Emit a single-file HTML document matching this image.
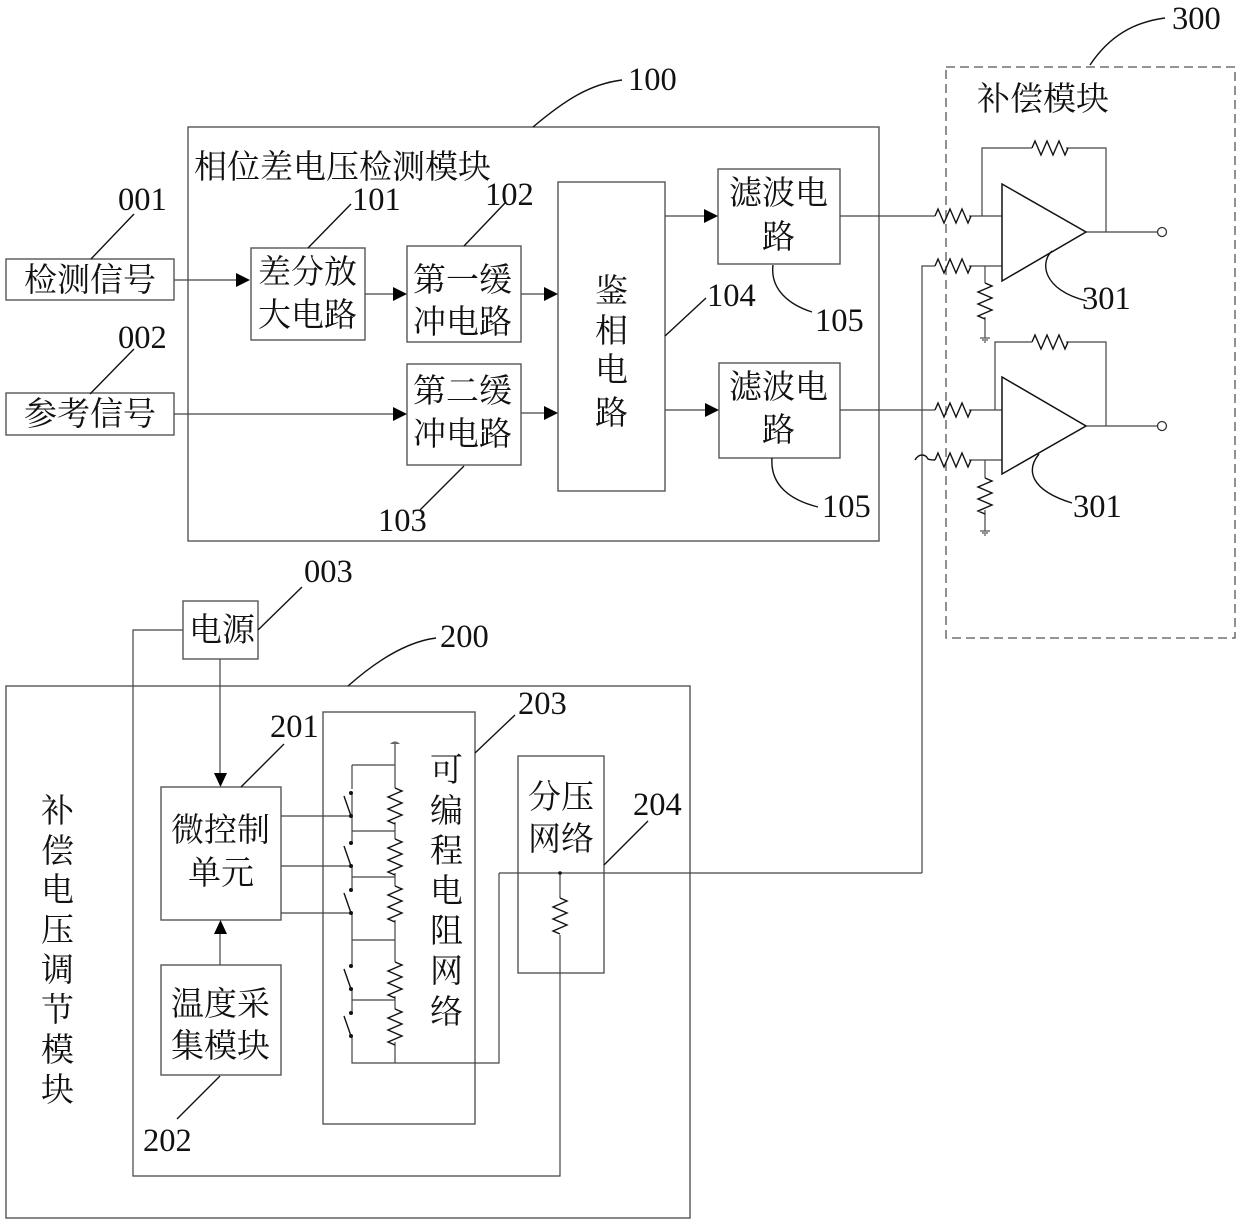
<!DOCTYPE html>
<html lang="zh">
<head>
<meta charset="utf-8">
<title>Diagram</title>
<style>
html,body{margin:0;padding:0;background:#fff}
svg{display:block}
.b{fill:none;stroke:#555;stroke-width:1.4}
.w{fill:none;stroke:#444;stroke-width:1.2}
.l{fill:none;stroke:#111;stroke-width:1.4}
.r{fill:none;stroke:#111;stroke-width:1.4}
.a{fill:#000;stroke:none}
.d{fill:#111;stroke:none}
.t{font-family:"Liberation Serif","Noto Serif CJK SC",serif;font-size:33px;fill:#111}
.n{font-family:"Liberation Serif",serif;font-size:32.5px;fill:#111}
</style>
</head>
<body>
<svg xmlns="http://www.w3.org/2000/svg" width="1240" height="1224" viewBox="0 0 1240 1224">
<defs>
<path id="rh" class="r" d="M0 0l3-7 6 14 6-14 6 14 6-14 6 14 3-7"/>
<path id="rv" class="r" d="M0 0l7 3-14 6 14 6-14 6 14 6-14 6 7 3"/>
<path id="gnd" fill="none" stroke="#555" stroke-width="1.2" d="M-5 0h10M-3 2h6M-1 4h2"/>
</defs>

<!-- boxes -->
<rect class="b" x="188" y="127" width="691" height="414"/>
<rect class="b" x="6" y="259" width="168" height="41"/>
<rect class="b" x="6" y="393" width="168" height="42"/>
<rect class="b" x="251" y="248" width="114" height="92"/>
<rect class="b" x="407" y="246" width="114" height="96"/>
<rect class="b" x="407" y="364" width="114" height="101"/>
<rect class="b" x="558" y="182" width="107" height="309"/>
<rect class="b" x="718" y="169" width="122" height="95"/>
<rect class="b" x="719" y="363" width="121" height="95"/>
<rect x="946" y="67" width="289" height="571" fill="none" stroke="#555" stroke-width="1.3" stroke-dasharray="9 5"/>
<rect class="b" x="183" y="601" width="75" height="58"/>
<rect class="b" x="6" y="686" width="684" height="532"/>
<rect class="b" x="161" y="787" width="120" height="133"/>
<rect class="b" x="161" y="965" width="120" height="110"/>
<rect class="b" x="323" y="712" width="152" height="412"/>
<rect class="b" x="518" y="756" width="86" height="217"/>

<!-- top wires -->
<path class="w" d="M174 280H238M365 294H394M521 294H545M174 414H394M521 413H545M665 216H705M665 410H706"/>
<path class="a" d="M236 273l14 7-14 7zM393 287l14 7-14 7zM544 287l14 7-14 7zM393 407l14 7-14 7zM544 406l14 7-14 7zM704 209l14 7-14 7zM705 403l14 7-14 7z"/>

<!-- compensation amp 1 -->
<path class="w" d="M840 216H935M969 216H1002M982 216V148H1032M1066 148H1106V232M1086 232H1157.500M922 873V266H935M969 266H1002M985 266V283M985 317V338"/>
<use href="#rh" x="935" y="216"/>
<use href="#rh" x="935" y="266"/>
<use href="#rh" x="1032" y="148"/>
<use href="#rv" x="985" y="283"/>
<use href="#gnd" x="985" y="338"/>
<path fill="#fff" stroke="#111" stroke-width="1.5" d="M1002 184L1086 232 1002 281Z"/>
<circle cx="1162" cy="232" r="4.500" fill="#fff" stroke="#333" stroke-width="1.3"/>

<!-- compensation amp 2 -->
<path class="w" d="M840 410H935M969 410H1002M995 410V342H1032M1066 342H1106V426M1086 426H1157.500M969 460H1002M985 460V478M985 510V531"/>
<path class="r" d="M915 460q3-5 7-5 4 0 6 4 2 1 7 1"/>
<use href="#rh" x="935" y="410"/>
<use href="#rh" x="935" y="460"/>
<use href="#rh" x="1032" y="342"/>
<use href="#rv" x="985" y="478"/>
<use href="#gnd" x="985" y="531"/>
<path fill="#fff" stroke="#111" stroke-width="1.5" d="M1002 377L1086 426 1002 474Z"/>
<circle cx="1162" cy="426" r="4.500" fill="#fff" stroke="#333" stroke-width="1.3"/>

<!-- bottom wires -->
<path class="w" d="M183 630H133V1176H560V935M560 898V873M220 659V775M220 965V932M499 873H922M499 873V1063H352V1036M352 816V793M352 765V789"/>
<path class="a" d="M214 773h13l-6.500 14zM214 934l6.500-14 6.500 14z"/>
<circle class="d" cx="560" cy="873" r="1.800"/>
<use href="#rv" x="560" y="898"/>

<!-- programmable resistor network -->
<path d="M390 744q5-5 10 0z" fill="#666"/>
<path class="w" d="M395 744V788M352 765H395M281 816H352M352 816V843M352 831H395M395 822V839M281 866H352M352 866V890M352 877H395M395 873V886M281 913H352M352 913V966M352 940H395M395 920V962M352 989V1013M352 1000H395M395 996V1009M395 1042V1063"/>
<use href="#rv" x="395" y="788"/>
<use href="#rv" x="395" y="839"/>
<use href="#rv" x="395" y="886"/>
<use href="#rv" x="395" y="962"/>
<use href="#rv" x="395" y="1009"/>
<path class="r" d="M344 796L351 816M344 846L351 866M344 893L351 913M344 969L351 989M344 1016L351 1036"/>
<g class="d">
<circle cx="351" cy="793" r="2"/><circle cx="351" cy="816" r="2"/>
<circle cx="351" cy="843" r="2"/><circle cx="351" cy="866" r="2"/>
<circle cx="351" cy="890" r="2"/><circle cx="351" cy="913" r="2"/>
<circle cx="351" cy="966" r="2"/><circle cx="351" cy="989" r="2"/>
<circle cx="351" cy="1013" r="2"/><circle cx="351" cy="1036" r="2"/>
</g>

<!-- leaders -->
<path class="l" d="M91 259L134 214M90 394L134 349M308 248L351 204M464 246L505 203M420 510L464 466M665 336L706 298M258 630L302 587M241 787L284 744M177 1119L220 1076M475 753L515 715M604 865L648 821"/>
<path class="l" d="M1090 65C1110 35 1135 22 1165 18M533 127C565 100 590 84 622 80M773 265C770 290 790 305 812 312M772 458C770 485 790 500 818 507M348 686C375 662 405 642 436 638M1052 251C1040 262 1042 290 1087 301M1039 454C1026 470 1030 490 1072 503"/>

<!-- numbers -->
<g class="n">
<text x="118" y="210">001</text>
<text x="118" y="348">002</text>
<text x="352" y="210">101</text>
<text x="485" y="205">102</text>
<text x="628" y="90">100</text>
<text x="1172" y="29">300</text>
<text x="378" y="531">103</text>
<text x="707" y="306">104</text>
<text x="815" y="331">105</text>
<text x="822" y="517">105</text>
<text x="1082" y="309">301</text>
<text x="1073" y="517">301</text>
<text x="304" y="582">003</text>
<text x="440" y="647">200</text>
<text x="270" y="737">201</text>
<text x="518" y="714">203</text>
<text x="633" y="815">204</text>
<text x="143" y="1151">202</text>
</g>

<!-- labels -->
<g class="t" transform="translate(-1 0)">
<text x="195" y="178">相位差电压检测模块</text>
<text x="978" y="110">补偿模块</text>
<text x="25" y="291">检测信号</text>
<text x="25" y="425">参考信号</text>
<text x="259" y="283">差分放</text>
<text x="259" y="326">大电路</text>
<text x="414" y="291">第一缓</text>
<text x="414" y="333">冲电路</text>
<text x="414" y="402">第二缓</text>
<text x="414" y="445">冲电路</text>
<text x="596" y="302">鉴</text>
<text x="596" y="342">相</text>
<text x="596" y="381">电</text>
<text x="596" y="424">路</text>
<text x="730" y="204">滤波电</text>
<text x="763" y="248">路</text>
<text x="730" y="398">滤波电</text>
<text x="763" y="441">路</text>
<text x="190" y="641">电源</text>
<text x="42" y="822">补</text>
<text x="42" y="862">偿</text>
<text x="42" y="901">电</text>
<text x="42" y="941">压</text>
<text x="42" y="981">调</text>
<text x="42" y="1021">节</text>
<text x="42" y="1061">模</text>
<text x="42" y="1101">块</text>
<text x="172" y="841">微控制</text>
<text x="189" y="884">单元</text>
<text x="172" y="1015">温度采</text>
<text x="172" y="1057">集模块</text>
<text x="431" y="781">可</text>
<text x="431" y="822">编</text>
<text x="431" y="862">程</text>
<text x="431" y="902">电</text>
<text x="431" y="942">阻</text>
<text x="431" y="982">网</text>
<text x="431" y="1023">络</text>
<text x="529" y="808">分压</text>
<text x="529" y="850">网络</text>
</g>
</svg>
</body>
</html>
